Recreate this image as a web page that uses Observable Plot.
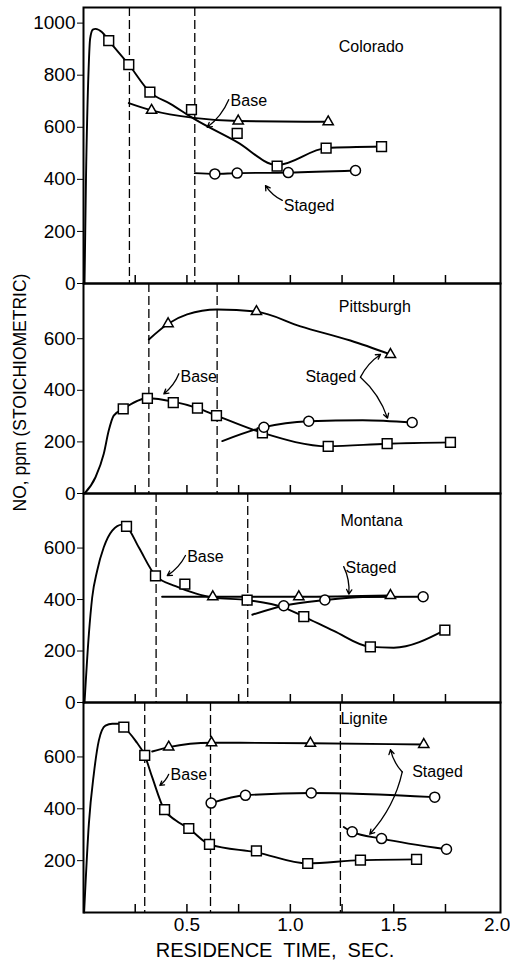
<!DOCTYPE html>
<html><head><meta charset="utf-8">
<script src="https://cdn.jsdelivr.net/npm/d3@7"></script>
<script src="https://cdn.jsdelivr.net/npm/@observablehq/plot@0.6"></script>
<style>
body{margin:0;background:#fff;}
#chart{width:510px;}
#chart svg{display:block;}
</style></head><body><div id="chart"></div>
<script>
// ---- axes ----
const minorTicks = [0.25, 0.5, 0.75, 1.0, 1.25, 1.5, 1.75];
const xTickLabels = [0.5, 1.0, 1.5, 2.0];
const yTicksTop = [0, 200, 400, 600, 800, 1000];
const yTicksMid = [0, 200, 400, 600];
const yTicksLast = [200, 400, 600];
const xTitle = "RESIDENCE  TIME,  SEC.";
const yTitle = "NO, ppm (STOICHIOMETRIC)";

// ---- Colorado ----
const coloradoBaseCurve = [[0.005,0],[0.012,400],[0.025,830],[0.032,940],[0.045,975],[0.058,978],[0.09,965],[0.122,933],[0.219,841],[0.321,735],[0.42,690],[0.533,633],[0.743,543],[0.936,455],[1.173,520],[1.441,526]];
const coloradoBaseSquares = [[0.122,933],[0.219,841],[0.321,735],[0.522,668],[0.743,577],[0.936,451],[1.173,520],[1.441,526]];
const coloradoTriCurve = [[0.219,693],[0.329,665],[0.533,636],[0.748,624],[1.183,621]];
const coloradoTriangles = [[0.329,665],[0.748,624],[1.183,621]];
const coloradoCircCurve = [[0.538,424],[0.635,421],[0.743,424],[0.99,426],[1.315,434]];
const coloradoCircles = [[0.635,421],[0.743,424],[0.99,426],[1.315,434]];
const coloradoDashed = [0.222, 0.538];
const coloradoLabels = [["Colorado",1.234,908],["Base",0.711,703],["Staged",0.968,300]];
const coloradoArrows = [[0.702,706,0.598,600],[0.961,319,0.88,376]];

// ---- Pittsburgh ----
const pittsburghBaseCurve = [[0.005,0],[0.058,63],[0.098,154],[0.122,244],[0.146,302],[0.192,328],[0.309,369],[0.434,356],[0.551,331],[0.643,302],[0.865,235],[1.183,183],[1.468,193],[1.774,198]];
const pittsburghBaseSquares = [[0.192,328],[0.309,369],[0.434,352],[0.551,331],[0.643,302],[0.865,235],[1.183,183],[1.468,193],[1.774,198]];
const pittsburghTriCurve = [[0.316,597],[0.409,658],[0.501,694],[0.646,713],[0.836,705],[1.049,648],[1.29,593],[1.484,539]];
const pittsburghTriangles = [[0.409,658],[0.836,705],[1.484,539]];
const pittsburghCircCurve = [[0.671,203],[0.872,257],[1.089,280],[1.35,284],[1.589,275]];
const pittsburghCircles = [[0.872,257],[1.089,280],[1.589,275]];
const pittsburghDashed = [0.316, 0.646];
const pittsburghLabels = [["Pittsburgh",1.234,725],["Base",0.469,451],["Staged",1.073,451]];
const pittsburghArrows = [[0.461,464,0.388,386],[1.339,451,1.436,539],[1.339,451,1.47,292]];

// ---- Montana ----
const montanaBaseCurve = [[0.005,0],[0.026,266],[0.042,408],[0.066,512],[0.098,603],[0.139,668],[0.187,691],[0.208,684],[0.267,603],[0.348,493],[0.445,452],[0.541,424],[0.625,408],[0.791,398],[0.968,369],[1.065,334],[1.21,278],[1.387,216],[1.5,213],[1.747,281]];
const montanaBaseSquares = [[0.208,684],[0.348,492],[0.49,460],[0.791,398],[1.065,334],[1.387,216],[1.747,281]];
const montanaTriCurve = [[0.38,411],[0.625,411],[1.041,411],[1.484,416]];
const montanaTriangles = [[0.625,411],[1.041,411],[1.484,416]];
const montanaCircCurve = [[0.816,341],[0.968,376],[1.167,398],[1.35,410],[1.642,411]];
const montanaCircles = [[0.968,376],[1.167,398],[1.642,411]];
const montanaDashed = [0.351, 0.794];
const montanaLabels = [["Montana",1.242,707],["Base",0.501,564],["Staged",1.267,523]];
const montanaArrows = [[0.493,571,0.405,493],[1.258,528,1.283,421]];

// ---- Lignite ----
const ligniteBaseCurve = [[0.003,0],[0.026,343],[0.05,535],[0.074,663],[0.106,721],[0.139,728],[0.171,728],[0.195,714],[0.251,663],[0.296,606],[0.332,522],[0.39,397],[0.445,356],[0.509,324],[0.609,263],[0.836,232],[1.084,189],[1.339,202],[1.61,205]];
const ligniteBaseSquares = [[0.195,715],[0.296,606],[0.392,397],[0.509,324],[0.609,263],[0.836,238],[1.084,189],[1.339,202],[1.61,205]];
const ligniteTriCurve = [[0.332,621],[0.412,638],[0.619,655],[1.097,653],[1.645,648]];
const ligniteTriangles = [[0.412,638],[0.619,655],[1.097,653],[1.645,648]];
const ligniteCircACurve = [[0.617,422],[0.783,452],[1.101,461],[1.698,445]];
const ligniteCircBCurve = [[1.258,330],[1.299,311],[1.441,285],[1.755,244]];
const ligniteCirclesA = [[0.617,422],[0.783,452],[1.101,461],[1.698,445]];
const ligniteCirclesB = [[1.299,311],[1.441,285],[1.755,244]];
const ligniteDashed = [0.296, 0.614, 1.242];
const ligniteLabels = [["Lignite",1.242,747],["Base",0.421,529],["Staged",1.589,542]];
const ligniteArrows = [[0.412,533,0.369,490],[1.541,542,1.484,628],[1.541,542,1.384,302]];

const FONT = "'Liberation Sans', Arial, sans-serif";
const X_DOMAIN = [0, 2.016];

function panel(o) {
  const inner = o.height - o.marginTop - o.marginBottom;
  const marks = [
    Plot.ruleX(o.dashed, {x: d => d, strokeDasharray: "9,4", strokeWidth: 1.3}),
    Plot.ruleX(minorTicks, {x: d => d, insetTop: inner - 8, strokeWidth: 1.5}),
    Plot.frame({strokeWidth: 2})
  ];
  for (const c of o.curves) {
    marks.push(Plot.line(c, {x: d => d[0], y: d => d[1], curve: "monotone-x", strokeWidth: 1.9}));
  }
  for (const [pts, sym, r] of o.dots) {
    marks.push(Plot.dot(pts, {x: d => d[0], y: d => d[1], symbol: sym, r, fill: "white", stroke: "black", strokeWidth: 1.5}));
  }
  marks.push(Plot.arrow(o.arrows, {x1: d => d[0], y1: d => d[1], x2: d => d[2], y2: d => d[3], bend: 15, headLength: 6, strokeWidth: 1.3}));
  marks.push(Plot.text(o.labels, {x: d => d[1], y: d => d[2], text: d => d[0], textAnchor: "start", lineAnchor: "middle", fontSize: 16}));
  if (o.extra) marks.push(...o.extra);
  return Plot.plot({
    width: 510, height: o.height,
    marginLeft: 83, marginRight: 10, marginTop: o.marginTop, marginBottom: o.marginBottom,
    x: o.xAxis ? {domain: X_DOMAIN, ticks: xTickLabels, tickSize: 0, tickPadding: 5, tickFormat: d3.format(".1f"), label: null}
               : {domain: X_DOMAIN, axis: null},
    y: {domain: o.yDomain, ticks: o.yTicks, tickSize: 6, tickPadding: 2, tickFormat: d => String(d), label: null},
    style: {background: "none", overflow: "visible", fontFamily: FONT, fontSize: "19px", color: "black"},
    marks
  });
}

const chart = document.getElementById("chart");
chart.append(panel({
  height: 283, marginTop: 7, marginBottom: 0, yDomain: [0, 1060], yTicks: yTicksTop,
  dashed: coloradoDashed,
  curves: [coloradoBaseCurve, coloradoTriCurve, coloradoCircCurve],
  dots: [[coloradoBaseSquares, "square", 5.5], [coloradoTriangles, "triangle", 3.8], [coloradoCircles, "circle", 5]],
  labels: coloradoLabels, arrows: coloradoArrows
}));
chart.append(panel({
  height: 210, marginTop: 0, marginBottom: 0, yDomain: [0, 814], yTicks: yTicksMid,
  dashed: pittsburghDashed,
  curves: [pittsburghBaseCurve, pittsburghTriCurve, pittsburghCircCurve],
  dots: [[pittsburghBaseSquares, "square", 5.5], [pittsburghTriangles, "triangle", 3.8], [pittsburghCircles, "circle", 5]],
  labels: pittsburghLabels, arrows: pittsburghArrows,
  extra: [Plot.text([yTitle], {text: d => d, frameAnchor: "left", rotate: -90, dx: -63, dy: 4, textAnchor: "middle", lineAnchor: "middle", fontSize: 17.5})]
}));
chart.append(panel({
  height: 209, marginTop: 0, marginBottom: 0, yDomain: [0, 812], yTicks: yTicksMid,
  dashed: montanaDashed,
  curves: [montanaBaseCurve, montanaTriCurve, montanaCircCurve],
  dots: [[montanaBaseSquares, "square", 5.5], [montanaTriangles, "triangle", 3.8], [montanaCircles, "circle", 5]],
  labels: montanaLabels, arrows: montanaArrows
}));
chart.append(panel({
  height: 262, marginTop: 0, marginBottom: 52, yDomain: [0, 810], yTicks: yTicksLast, xAxis: true,
  dashed: ligniteDashed,
  curves: [ligniteBaseCurve, ligniteTriCurve, ligniteCircACurve, ligniteCircBCurve],
  dots: [[ligniteBaseSquares, "square", 5.5], [ligniteTriangles, "triangle", 3.8], [ligniteCirclesA, "circle", 5], [ligniteCirclesB, "circle", 5]],
  labels: ligniteLabels, arrows: ligniteArrows,
  extra: [Plot.text([xTitle], {text: d => d, frameAnchor: "bottom", dy: 38, dx: -17, textAnchor: "middle", lineAnchor: "middle", fontSize: 20})]
}));
</script></body></html>
